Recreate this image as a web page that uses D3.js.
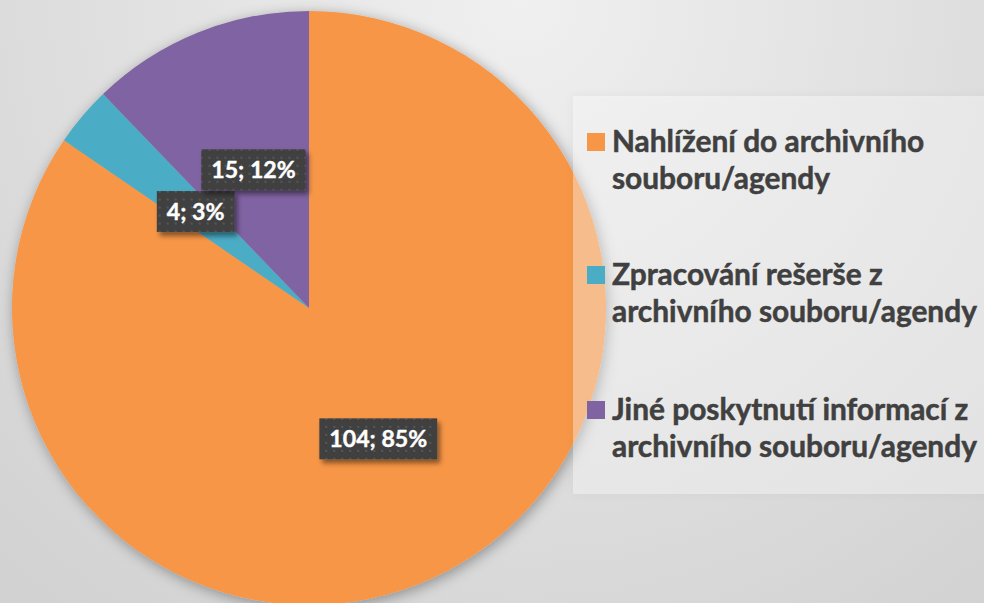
<!DOCTYPE html>
<meta charset="utf-8" />
<style>
  body { margin: 0; overflow: hidden; }
  text { font-family: Lato, 'Open Sans', sans-serif; font-weight: bold; }
</style>
<body>
<script src="https://d3js.org/d3.v7.min.js"></script>
<script>
  // data
  var categories = [
    'Nahlížení do archivního souboru/agendy',
    'Zpracování rešerše z archivního souboru/agendy',
    'Jiné poskytnutí informací z archivního souboru/agendy'
  ];
  var legendLines = [
    ['Nahlížení do archivního', 'souboru/agendy'],
    ['Zpracování rešerše z', 'archivního souboru/agendy'],
    ['Jiné poskytnutí informací z', 'archivního souboru/agendy']
  ];
  var values = [104, 4, 15];
  var percents = ['85%', '3%', '12%'];
  var colors = ['#F79646', '#4BACC6', '#8064A2'];

  var width = 984, height = 603;
  var cx = 309, cy = 308, radius = 297;

  var svg = d3.select('body').append('svg')
    .attr('width', width)
    .attr('height', height);

  var defs = svg.append('defs');

  // background gradient
  var bg = defs.append('radialGradient').attr('id', 'bg')
    .attr('gradientUnits', 'userSpaceOnUse')
    .attr('cx', 520).attr('cy', 0).attr('r', 760);
  bg.append('stop').attr('offset', '0%').attr('stop-color', '#f0f0f0');
  bg.append('stop').attr('offset', '100%').attr('stop-color', '#d2d2d2');

  var pieShadow = defs.append('filter').attr('id', 'pieShadow')
    .attr('x', '-20%').attr('y', '-20%').attr('width', '140%').attr('height', '140%');
  pieShadow.append('feDropShadow')
    .attr('dx', 2).attr('dy', 3).attr('stdDeviation', 7)
    .attr('flood-color', '#000').attr('flood-opacity', 0.35);

  var boxShadow = defs.append('filter').attr('id', 'boxShadow')
    .attr('x', '-20%').attr('y', '-30%').attr('width', '150%').attr('height', '170%');
  boxShadow.append('feDropShadow')
    .attr('dx', 3).attr('dy', 4).attr('stdDeviation', 2.5)
    .attr('flood-color', '#000').attr('flood-opacity', 0.45);

  var legShadow = defs.append('filter').attr('id', 'legShadow')
    .attr('x', '-10%').attr('y', '-10%').attr('width', '120%').attr('height', '120%');
  legShadow.append('feDropShadow')
    .attr('dx', 0).attr('dy', 0).attr('stdDeviation', 5)
    .attr('flood-color', '#000').attr('flood-opacity', 0.12);

  var dots = defs.append('pattern').attr('id', 'dots')
    .attr('patternUnits', 'userSpaceOnUse')
    .attr('width', 8).attr('height', 8);
  dots.append('rect').attr('width', 8).attr('height', 8).attr('fill', '#404040');
  dots.append('rect').attr('x', 3).attr('y', 3).attr('width', 2).attr('height', 2).attr('fill', '#575757');

  svg.append('rect').attr('width', width).attr('height', height).attr('fill', 'url(#bg)');

  // pie
  var pie = d3.pie().sort(null).value(function(d) { return d; });
  var arcs = pie(values);
  var arc = d3.arc().innerRadius(0).outerRadius(radius);

  var g = svg.append('g').attr('transform', 'translate(' + cx + ',' + cy + ')');
  var slices = g.append('g').attr('filter', 'url(#pieShadow)');
  slices.selectAll('path')
    .data(arcs)
    .enter().append('path')
    .attr('d', arc)
    .attr('fill', function(d, i) { return colors[i]; });

  // legend box (semi-transparent, pie shows through)
  svg.append('rect')
    .attr('x', 573).attr('y', 96)
    .attr('width', 420).attr('height', 398)
    .attr('fill', '#ffffff')
    .attr('fill-opacity', 0.36)
    .attr('filter', 'url(#legShadow)');

  // legend entries
  var legendTop = [152, 285, 420];
  var legend = svg.append('g');
  var legFont = 29;
  var probe = legend.append('text').attr('font-size', legFont).text(legendLines[1][1]);
  legFont = legFont * 365 / probe.node().getComputedTextLength();
  probe.remove();

  legendLines.forEach(function(lines, i) {
    var item = legend.append('g');
    item.append('rect')
      .attr('x', 587).attr('y', legendTop[i] - 19)
      .attr('width', 18).attr('height', 18)
      .attr('fill', colors[i]);
    item.append('text')
      .attr('x', 612).attr('y', legendTop[i])
      .attr('font-size', legFont)
      .attr('fill', '#404040')
      .attr('stroke', '#404040')
      .attr('stroke-width', 0.5)
      .selectAll('tspan')
      .data(lines)
      .enter().append('tspan')
      .attr('x', 612)
      .attr('dy', function(d, j) { return j === 0 ? 0 : 36.5; })
      .text(function(d) { return d; });
  });

  // data labels
  var labelArc = d3.arc().innerRadius(0).outerRadius(radius);
  var labFont = 20;
  var probe2 = g.append('text').attr('font-size', labFont).text('104; 85%');
  labFont = labFont * 98 / probe2.node().getComputedTextLength();
  probe2.remove();

  var labels = g.append('g').selectAll('g')
    .data(arcs)
    .enter().append('g')
    .attr('transform', function(d) {
      var c = labelArc.centroid(d);
      return 'translate(' + c[0] + ',' + (c[1] - 0.5) + ')';
    });

  labels.each(function(d, i) {
    var sel = d3.select(this);
    var t = sel.append('text')
      .attr('text-anchor', 'middle')
      .attr('dy', '0.36em')
      .attr('font-size', labFont)
      .attr('fill', '#ffffff')
      .attr('stroke', '#ffffff')
      .attr('stroke-width', 0.4)
      .text(values[i] + '; ' + percents[i]);
    var w = t.node().getComputedTextLength() + 20;
    sel.insert('rect', 'text')
      .attr('x', -w / 2).attr('y', -20.5)
      .attr('width', w).attr('height', 41)
      .attr('fill', 'url(#dots)')
      .attr('filter', 'url(#boxShadow)');
  });
</script>
</body>
